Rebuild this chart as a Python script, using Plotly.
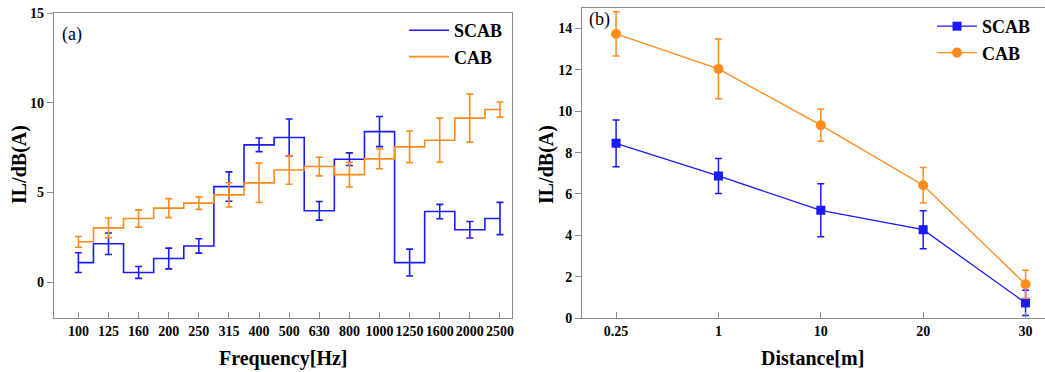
import plotly.graph_objects as go

# ---------------- data ----------------
freq_labels = ["100", "125", "160", "200", "250", "315", "400", "500", "630",
               "800", "1000", "1250", "1600", "2000", "2500"]
scab_freq = [1.09, 2.14, 0.54, 1.32, 2.02, 5.33, 7.66, 8.07, 3.98, 6.86, 8.40, 1.09, 3.94, 2.92, 3.55]
scab_freq_err = [0.55, 0.60, 0.33, 0.58, 0.40, 0.82, 0.38, 1.03, 0.52, 0.35, 0.84, 0.75, 0.40, 0.46, 0.90]
cab_freq = [2.25, 3.03, 3.55, 4.13, 4.41, 4.87, 5.54, 6.26, 6.45, 6.00, 6.88, 7.55, 7.92, 9.15, 9.63]
cab_freq_err = [0.30, 0.55, 0.48, 0.53, 0.35, 0.68, 1.10, 0.80, 0.52, 0.69, 0.55, 0.88, 1.23, 1.34, 0.42]

dist_labels = ["0.25", "1", "10", "20", "30"]
scab_dist = [8.45, 6.87, 5.21, 4.27, 0.73]
scab_dist_err = [1.13, 0.85, 1.28, 0.92, 0.61]
cab_dist = [13.74, 12.05, 9.33, 6.42, 1.63]
cab_dist_err = [1.07, 1.45, 0.78, 0.86, 0.68]

# ---------------- styles ----------------
W, H = 1045, 372
BLUE = "#1a1aff"
ORANGE = "#ff8c1a"
AXC = "#8c8c8c"
SERIF = "Liberation Serif"

def px_x(p):
    return p / W

def px_y(p):
    return 1 - p / H

fx = list(range(len(freq_labels)))
dx = list(range(len(dist_labels)))

fig = go.Figure()

# panel (a)
fig.add_trace(go.Scatter(
    x=fx, y=scab_freq, mode="lines", name="SCAB", line=dict(color=BLUE, width=1.6, shape="hvh"),
    error_y=dict(type="data", array=scab_freq_err, color=BLUE, thickness=1.6, width=3.5),
    xaxis="x", yaxis="y", legend="legend"))
fig.add_trace(go.Scatter(
    x=fx, y=cab_freq, mode="lines", name="CAB", line=dict(color=ORANGE, width=1.6, shape="hvh"),
    error_y=dict(type="data", array=cab_freq_err, color=ORANGE, thickness=1.6, width=3.5),
    xaxis="x", yaxis="y", legend="legend"))

# panel (b)
fig.add_trace(go.Scatter(
    x=dx, y=scab_dist, mode="lines+markers", name="SCAB",
    line=dict(color=BLUE, width=1.3), marker=dict(symbol="square", size=9, color=BLUE),
    error_y=dict(type="data", array=scab_dist_err, color=BLUE, thickness=1.5, width=3.5),
    xaxis="x2", yaxis="y2", legend="legend2"))
fig.add_trace(go.Scatter(
    x=dx, y=cab_dist, mode="lines+markers", name="CAB",
    line=dict(color=ORANGE, width=1.3), marker=dict(symbol="circle", size=10, color=ORANGE),
    error_y=dict(type="data", array=cab_dist_err, color=ORANGE, thickness=1.5, width=3.5),
    xaxis="x2", yaxis="y2", legend="legend2"))

tickfont = dict(family=SERIF, size=14, color="black", weight="bold")
ax_common = dict(showgrid=False, zeroline=False, showline=True, linecolor=AXC, linewidth=1.3,
                 tickcolor=AXC, tickwidth=1.2, tickfont=tickfont, automargin=False)

fig.update_layout(
    width=W, height=H,
    margin=dict(l=0, r=0, t=0, b=0, autoexpand=False),
    paper_bgcolor="white", plot_bgcolor="white",
    xaxis=dict(domain=[px_x(54), px_x(512)], anchor="y", range=[-0.81, 14.4],
               tickmode="array", tickvals=fx, ticktext=freq_labels,
               ticks="inside", ticklen=6, mirror=True, **ax_common),
    yaxis=dict(domain=[px_y(318), px_y(13.3)], anchor="x", range=[-2, 15],
               tickmode="array", tickvals=[0, 5, 10, 15],
               ticks="outside", ticklen=6, mirror=True, **ax_common),
    xaxis2=dict(domain=[px_x(582.3), 1.0], anchor="y2", range=[-0.33, 4.19],
                tickmode="array", tickvals=dx, ticktext=dist_labels,
                ticks="inside", ticklen=6, mirror=True, **ax_common),
    yaxis2=dict(domain=[px_y(318), px_y(7.5)], anchor="x2", range=[0, 15.02],
                tickmode="array", tickvals=[0, 2, 4, 6, 8, 10, 12, 14],
                ticks="outside", ticklen=6, mirror=False, **ax_common),
    legend=dict(x=px_x(404), y=px_y(12), xanchor="left", yanchor="top",
                bgcolor="rgba(0,0,0,0)", tracegroupgap=0, itemwidth=40,
                font=dict(family=SERIF, size=18, color="black", weight="bold")),
    legend2=dict(x=px_x(932), y=px_y(8), xanchor="left", yanchor="top",
                 bgcolor="rgba(0,0,0,0)", tracegroupgap=0, itemwidth=40,
                 font=dict(family=SERIF, size=18, color="black", weight="bold")),
    showlegend=True,
)

ann = [
    dict(text="(a)", x=px_x(60), y=px_y(34), xanchor="left", yanchor="middle",
         font=dict(family=SERIF, size=18, color="black")),
    dict(text="(b)", x=px_x(587), y=px_y(20), xanchor="left", yanchor="middle",
         font=dict(family=SERIF, size=18, color="black")),
    dict(text="IL/dB(A)", x=px_x(19), y=px_y(165), textangle=-90, xanchor="center", yanchor="middle",
         font=dict(family=SERIF, size=20, color="black", weight="bold")),
    dict(text="IL/dB(A)", x=px_x(546), y=px_y(165), textangle=-90, xanchor="center", yanchor="middle",
         font=dict(family=SERIF, size=20, color="black", weight="bold")),
    dict(text="Frequency[Hz]", x=px_x(283), y=px_y(358), xanchor="center", yanchor="middle",
         font=dict(family=SERIF, size=20, color="black", weight="bold")),
    dict(text="Distance[m]", x=px_x(812), y=px_y(358), xanchor="center", yanchor="middle",
         font=dict(family=SERIF, size=20, color="black", weight="bold")),
]
for a in ann:
    a.update(xref="paper", yref="paper", showarrow=False)
fig.update_layout(annotations=ann)

fig.write_html("out.html", config={"displayModeBar": False},
               post_script="document.body.style.margin='0';document.body.style.overflow='hidden';")
